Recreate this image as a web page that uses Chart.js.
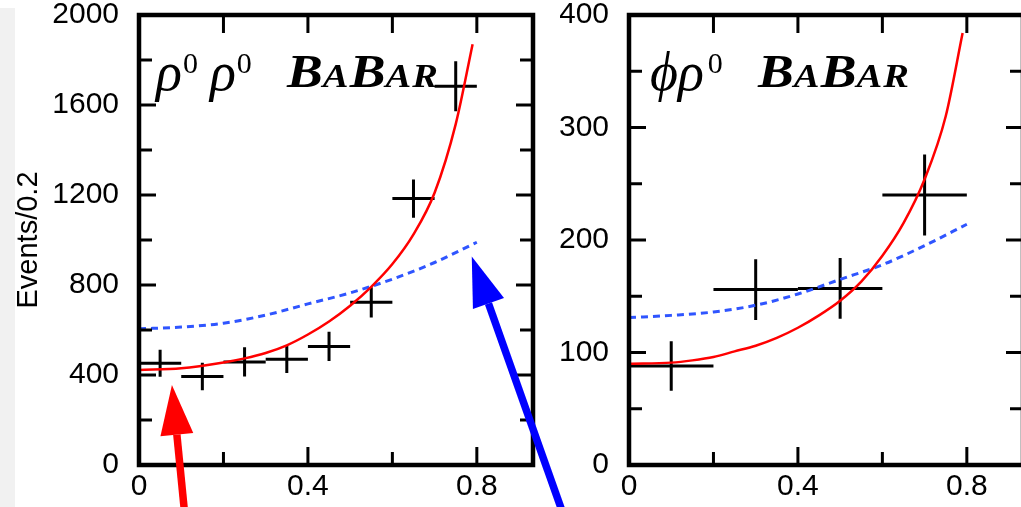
<!DOCTYPE html>
<html>
<head>
<meta charset="utf-8">
<script src="https://cdn.jsdelivr.net/npm/chart.js@4.4.1/dist/chart.umd.min.js"></script>
<style>
  html, body { margin: 0; padding: 0; background: #fff; overflow: hidden; }
  body { width: 1021px; height: 507px; position: relative; }
  #strip { position: absolute; left: 0; top: 8px; width: 15px; height: 499px; background: #f1f1f1; }
  canvas { position: absolute; top: 0; }
  #left { left: 0; }
  #right { left: 560px; }
</style>
</head>
<body>
<div id="strip"></div>
<canvas id="left" width="600" height="507"></canvas>
<canvas id="right" width="560" height="507"></canvas>
<script>
// rho0 rho0 panel: measured points (bin centre, events, errors)
const rhoX = [0.05, 0.15, 0.25, 0.35, 0.45, 0.55, 0.65, 0.75];
const rhoY = [452, 393, 458, 470, 527, 723, 1184, 1683];
const rhoXErr = [0.05, 0.05, 0.05, 0.05, 0.05, 0.05, 0.05, 0.05];
const rhoYErr = [60, 61, 65, 61, 65, 67, 85, 111];

// rho0 rho0 panel: fit curves
const rhoRedX = [0, 0.1, 0.2, 0.25, 0.3, 0.35, 0.4, 0.45, 0.5, 0.55, 0.6, 0.65, 0.7, 0.75, 0.79];
const rhoRedY = [422, 430, 456, 474, 498, 532, 580, 638, 708, 792, 893, 1025, 1210, 1515, 1870];
const rhoBlueX = [0, 0.1, 0.2, 0.3, 0.4, 0.5, 0.6, 0.7, 0.8];
const rhoBlueY = [605, 613, 630, 666, 716, 765, 826, 900, 990];

// phi rho0 panel
const phiX = [0.1, 0.3, 0.5, 0.7];
const phiY = [88, 156, 157, 240];
const phiXErr = [0.1, 0.1, 0.1, 0.1];
const phiYErr = [22, 27, 27, 36];

const phiRedX = [0, 0.1, 0.15, 0.2, 0.25, 0.3, 0.35, 0.4, 0.45, 0.5, 0.55, 0.6, 0.65, 0.7, 0.75, 0.79];
const phiRedY = [90, 91, 93, 96, 101, 106, 113, 122, 133, 146, 163, 186, 215, 254, 310, 384];
const phiBlueX = [0, 0.1, 0.2, 0.3, 0.4, 0.5, 0.6, 0.7, 0.8];
const phiBlueY = [131, 133, 136, 142, 152, 165, 178, 195, 214];

// axis settings
const xMax = 0.933;
const rhoYMax = 2000, rhoYStep = 200, rhoYMajor = 400;
const phiYMax = 400, phiYStep = 50, phiYMajor = 100;

// arrows on the left panel, in its data units (tail -> tip)
const arrows = [
    { from: [0.109, -232], to: [0.078, 356], color: '#ff0000' },
    { from: [1.007, -232], to: [0.788, 927], color: '#0000ff' },
];

const toXY = (xs, ys) => xs.map((x, i) => ({ x: x, y: ys[i] }));

const crosses = (xs, ys, dx, dy) => xs.map((x, i) => ({
    data: [
        { x: x - dx[i], y: ys[i] }, { x: x + dx[i], y: ys[i] }, { x: x, y: ys[i] },
        { x: x, y: ys[i] + dy[i] }, { x: x, y: ys[i] - dy[i] }
    ],
    showLine: true, borderColor: '#000', borderWidth: 3, pointRadius: 0,
    borderJoinStyle: 'bevel', borderCapStyle: 'butt', tension: 0
}));

const curve = (xs, ys, color, dash, width) => ({
    data: toXY(xs, ys), showLine: true, borderColor: color, borderWidth: width,
    borderDash: dash, pointRadius: 0, cubicInterpolationMode: 'monotone'
});

const line = (ctx, x1, y1, x2, y2) => {
    ctx.beginPath(); ctx.moveTo(x1, y1); ctx.lineTo(x2, y2); ctx.stroke();
};

// frame and inward ticks on all four sides
const framePlugin = {
    id: 'frame',
    afterDraw(chart) {
        const { ctx, chartArea: a, scales: { x, y } } = chart;
        ctx.save();
        ctx.strokeStyle = '#000';
        ctx.lineWidth = 3;
        y.ticks.forEach(t => {
            const p = y.getPixelForValue(t.value);
            const len = t.label ? 17 : 13;
            line(ctx, a.left, p, a.left + len, p);
            line(ctx, a.right, p, a.right - len, p);
        });
        x.ticks.forEach(t => {
            const p = x.getPixelForValue(t.value);
            line(ctx, p, a.bottom, p, a.bottom - (t.label ? 18 : 13));
            line(ctx, p, a.top, p, a.top + 18);
        });
        ctx.lineWidth = 4.5;
        ctx.strokeRect(a.left, a.top, a.right - a.left, a.bottom - a.top);
        ctx.restore();
    }
};

// texts like rho0 rho0 and the BaBar logo; optional width stretches the run
const drawRuns = (ctx, x0, runs, width) => {
    let total = 0;
    runs.forEach(r => {
        ctx.font = r.font;
        total += (r.gap || 0) + ctx.measureText(r.t).width;
    });
    const sx = width ? width / total : 1;
    ctx.save();
    ctx.translate(x0, 0);
    ctx.scale(sx, 1);
    let x = 0;
    runs.forEach(r => {
        ctx.font = r.font;
        x += r.gap || 0;
        ctx.fillText(r.t, x, r.base);
        x += ctx.measureText(r.t).width;
    });
    ctx.restore();
};

const babar = (base) => [
    { t: 'B', font: 'italic bold 46px "Liberation Serif"', base: base },
    { t: 'A', font: 'italic bold 33px "Liberation Serif"', base: base, gap: 0 },
    { t: 'B', font: 'italic bold 46px "Liberation Serif"', base: base, gap: 1 },
    { t: 'A', font: 'italic bold 33px "Liberation Serif"', base: base, gap: 0 },
    { t: 'R', font: 'italic bold 33px "Liberation Serif"', base: base, gap: 1 },
];

const labelPlugin = (runs, x, logoX) => ({
    id: 'labels',
    afterDraw(chart) {
        const ctx = chart.ctx;
        ctx.save();
        ctx.fillStyle = '#000';
        ctx.textBaseline = 'alphabetic';
        drawRuns(ctx, x, runs);
        drawRuns(ctx, logoX, babar(87), 151);
        ctx.restore();
    }
});

const arrowPlugin = {
    id: 'arrows',
    afterDraw(chart) {
        const { ctx, scales: { x, y } } = chart;
        ctx.save();
        arrows.forEach(a => {
            const x1 = x.getPixelForValue(a.from[0]), y1 = y.getPixelForValue(a.from[1]);
            const x2 = x.getPixelForValue(a.to[0]), y2 = y.getPixelForValue(a.to[1]);
            const ang = Math.atan2(y2 - y1, x2 - x1);
            const head = 50, half = 16.5;
            const bx = x2 - head * Math.cos(ang), by = y2 - head * Math.sin(ang);
            ctx.strokeStyle = a.color;
            ctx.fillStyle = a.color;
            ctx.lineWidth = 7.5;
            line(ctx, x1, y1, bx, by);
            ctx.beginPath();
            ctx.moveTo(x2, y2);
            ctx.lineTo(bx + half * Math.sin(ang), by - half * Math.cos(ang));
            ctx.lineTo(bx - half * Math.sin(ang), by + half * Math.cos(ang));
            ctx.closePath();
            ctx.fill();
        });
        ctx.restore();
    }
};

const tickFont = { family: '"Liberation Sans", Arial, sans-serif', size: 30 };

const makeChart = (el, datasets, yMax, yStep, yMajor, yWidth, padRight, title, plugins) => new Chart(el, {
    type: 'scatter',
    data: { datasets: datasets },
    options: {
        responsive: false,
        animation: false,
        layout: { padding: { left: 0, top: 15, right: padRight, bottom: 0 } },
        plugins: { legend: { display: false }, tooltip: { enabled: false } },
        scales: {
            x: {
                type: 'linear', min: 0, max: xMax,
                grid: { display: false }, border: { display: false },
                ticks: {
                    stepSize: 0.2, includeBounds: false, padding: -4, color: '#000', font: tickFont,
                    maxRotation: 0, autoSkip: false,
                    callback: v => {
                        const k = Math.round(v * 10);
                        return k % 4 === 0 ? (k === 0 ? '0' : (k / 10).toString()) : '';
                    }
                },
                afterFit: s => { s.height = 42; s.paddingLeft = 0; s.paddingRight = 0; }
            },
            y: {
                type: 'linear', min: 0, max: yMax,
                grid: { display: false }, border: { display: false },
                title: {
                    display: !!title, text: title, color: '#000',
                    font: { family: '"Liberation Sans", Arial, sans-serif', size: 29, lineHeight: 1.2 },
                    padding: { top: 12, bottom: 0 }
                },
                ticks: {
                    stepSize: yStep, padding: 12, color: '#000', font: tickFont, autoSkip: false,
                    callback: v => (Math.round(v) % yMajor === 0 ? String(Math.round(v)) : '')
                },
                afterFit: s => { s.width = yWidth; s.paddingTop = 0; s.paddingBottom = 0; }
            }
        }
    },
    plugins: plugins
});

const rhoLabel = [
    { t: 'ρ', font: 'italic 54px "Liberation Serif"', base: 90 },
    { t: '0', font: '30px "Liberation Serif"', base: 73, gap: 1 },
    { t: 'ρ', font: 'italic 54px "Liberation Serif"', base: 90, gap: 12 },
    { t: '0', font: '30px "Liberation Serif"', base: 73, gap: 1 },
];
const phiLabel = [
    { t: 'ϕ', font: 'italic 54px "Liberation Serif"', base: 90 },
    { t: 'ρ', font: 'italic 54px "Liberation Serif"', base: 90 },
    { t: '0', font: '30px "Liberation Serif"', base: 73, gap: 4 },
];

makeChart(document.getElementById('left'),
    [curve(rhoRedX, rhoRedY, '#ff0000', [], 2.5),
     curve(rhoBlueX, rhoBlueY, '#2f55ff', [7, 5], 3)]
        .concat(crosses(rhoX, rhoY, rhoXErr, rhoYErr)),
    rhoYMax, rhoYStep, rhoYMajor, 139, 67, 'Events/0.2',
    [framePlugin, labelPlugin(rhoLabel, 156, 287), arrowPlugin]);

makeChart(document.getElementById('right'),
    [curve(phiRedX, phiRedY, '#ff0000', [], 2.5),
     curve(phiBlueX, phiBlueY, '#2f55ff', [7, 5], 3)]
        .concat(crosses(phiX, phiY, phiXErr, phiYErr)),
    phiYMax, phiYStep, phiYMajor, 69, 97, '',
    [framePlugin, labelPlugin(phiLabel, 90, 198)]);
</script>
</body>
</html>
